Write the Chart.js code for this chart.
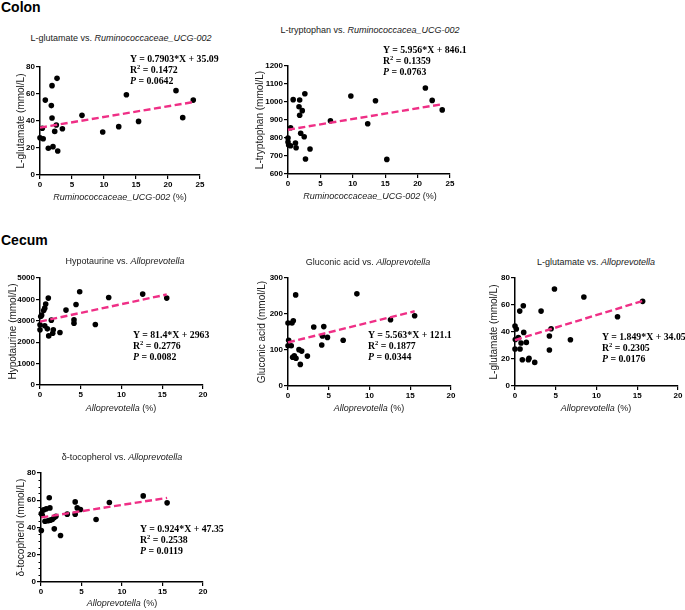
<!DOCTYPE html>
<html><head><meta charset="utf-8">
<script src="https://cdn.jsdelivr.net/npm/chart.js@4.4.1/dist/chart.umd.min.js"></script>
<style>
html,body{margin:0;padding:0;background:#fff;width:685px;height:610px;overflow:hidden;}
#wrap{position:relative;width:685px;height:610px;}
canvas{position:absolute;}
.t{position:absolute;font-family:"Liberation Sans",Arial,sans-serif;color:#1a1a1a;white-space:nowrap;}
.hdr{font-weight:bold;font-size:14px;color:#000;transform:translateY(-50%);}
.ctr{font-size:9px;transform:translate(-50%,-50%);}
.st{position:absolute;font-family:"Liberation Serif","Times New Roman",serif;font-weight:bold;font-size:9.8px;line-height:11px;white-space:nowrap;color:#000;}
.st sup{font-size:6.5px;line-height:0;vertical-align:4px;}
</style></head><body><div id="wrap"></div>
<script>
// ---------- data ----------
const colonRumX1 = [0,0.5,0.36,0.83,1.3,1.88,1.77,1.88,2.03,2.3,2.55,2.66,2.77,3.5,6.56,9.8,12.3,13.5,15.4,21.25,22.3,23.95];
const colonGlutamate = [27.6,26.9,34.6,55.5,19.8,66.2,51.4,42.2,21,32.3,37,71.6,17.8,34.3,44.2,31.9,35.8,59.5,39.7,62.5,42.5,55.5];

const colonRumX2 = [0,0,0.1,0.4,0.4,0.8,1.15,1.25,1.7,1.8,1.8,1.96,2.2,2.5,2.6,2.7,3.4,6.55,9.7,12.3,13.5,15.25,21.2,22.25,23.8];
const colonTryptophan = [800,778,761,757,857,1013,772,746,974,1011,926,826,952,807,1046,683,739,896,1033,879,1007,681,1078,1009,956];

const cecumAlloX_hypo = [0,0,0.09,0.2,0.45,0.58,0.7,0.58,0.9,1.02,1.07,1.39,1.56,1.63,2.45,3.19,4.17,4.17,4.42,4.87,6.79,8.43,12.6,15.55];
const cecumHypotaurine = [2810,2576,3200,3264,3480,3590,3780,2763,2623,4060,2295,3030,2420,2576,2450,3500,3045,2890,3760,4356,2824,4090,4248,4060];

const cecumAlloX_gluc = [0,0,0.08,0.4,0.49,0.57,0.65,0.77,0.94,0.98,1.35,1.51,1.68,2.38,3.16,4.14,4.22,4.39,4.84,6.77,8.45,12.58,15.54];
const cecumGluconic = [175,112,127,112,175,80,181,84,253,77,101,60,97,83,164,114,139,165,135,127,256,184,195];

const cecumAlloX_glu = [0,0,0.04,0.16,0.41,0.58,0.62,0.74,0.9,1.02,1.07,1.39,1.64,1.72,2.42,3.2,4.22,4.22,4.43,4.84,6.8,8.45,12.58,15.66];
const cecumGlutamate = [44.4,27.4,34.5,42.2,35.8,55.5,27.4,31.8,19.5,59.5,39.7,32.3,19.5,20.5,17.5,55.5,37,26.7,42.4,71.8,34.3,65.9,51.3,62.7];

const cecumAlloX_toc = [0.04,0.04,0.16,0.32,0.49,0.65,0.86,1.02,1.1,1.14,1.39,1.64,1.64,1.84,2.41,3.24,4.22,4.22,4.47,4.87,6.8,8.44,12.62,15.57];
const cecumTocopherol = [37.8,50.3,49,52.9,44.6,53.7,44.9,61.8,54.4,45.4,45.9,47.3,39,48.3,34.1,49.8,58.8,49.8,54.4,53.2,45.9,58.4,63.2,58.1];

// regression results (as printed)
const slopes     = ["0.7903","5.956","81.4","5.563","1.849","0.924"];
const intercepts = ["35.09","846.1","2963","121.1","34.05","47.35"];
const rSquared   = ["0.1472","0.1359","0.2776","0.1877","0.2305","0.2538"];
const pValues    = ["0.0642","0.0763","0.0082","0.0344","0.0176","0.0119"];

// axis ranges / ticks
const yMins  = [0,600,0,0,0,0];
const yMaxs  = [80,1200,5000,300,80,80];
const ySteps = [20,100,1000,100,20,20];
const yMinorSteps = [0,0,0,0,0,5];
const xMaxs  = [25,25,20,20,20,20];
const xStep  = 5;

// texts
const titleMetab = ["L-glutamate","L-tryptophan","Hypotaurine","Gluconic acid","L-glutamate","\u03b4-tocopherol"];
const titleTaxa  = ["Ruminococcaceae_UCG-002","Ruminococcacea_UCG-002","Alloprevotella","Alloprevotella","Alloprevotella","Alloprevotella"];
const yTitles    = ["L-glutamate (mmol/L)","L-tryptophan (mmol/L)","Hypotaurine (mmol/L)","Gluconic acid (mmol/L)","L-glutamate (mmol/L)","\u03b4-tocopherol (mmol/L)"];
const xTitleTaxa = ["Ruminococcaceae_UCG-002","Ruminococcaceae_UCG-002","Alloprevotella","Alloprevotella","Alloprevotella","Alloprevotella"];
const sections   = ["Colon","Cecum"];

const seriesX = [colonRumX1,colonRumX2,cecumAlloX_hypo,cecumAlloX_gluc,cecumAlloX_glu,cecumAlloX_toc];
const seriesY = [colonGlutamate,colonTryptophan,cecumHypotaurine,cecumGluconic,cecumGlutamate,cecumTocopherol];

// ---------- layout (pixels) ----------
const AREAS = [ // chart-area left, top, right, bottom
  [40,67,200,175],[288,66,450,174],[40,278,203,385],
  [288,278,451,386],[515,278,678,386],[41,473,203,582]
];
const YT_OFF = [19,28,27,26,21,20];          // y-title centre distance from axis
const TITLE_POS = [[121,38],[370,30],[125,261],[368,262],[596,262],[122,457]];
const XLAB_POS  = [[120,197],[370,196],[121,408],[369,408],[596,408],[122,603]];
const STAT_POS  = [[130,58],[383,49],[133,334],[368,334],[602,336],[140,528]];
const HDR_POS   = [[1,7],[1,240]];

const YW = 38, PT = 10, XH = 22;
const PINK = '#ef2f86';
const SANS = '"Liberation Sans", Arial, sans-serif';
const YT_SIZE = 10;

const wrap = document.getElementById('wrap');
function addText(cls, html, x, y){
  const d = document.createElement('div');
  d.className = cls; d.innerHTML = html;
  d.style.left = x+'px'; d.style.top = y+'px';
  wrap.appendChild(d); return d;
}

const minorTicks = {
  id:'minorTicks',
  afterDraw(chart, args, opts){
    const step = opts.step; if(!step) return;
    const y = chart.scales.y, ctx = chart.ctx, major = opts.major;
    ctx.save(); ctx.strokeStyle = '#000'; ctx.lineWidth = 1;
    for(let v = y.min; v <= y.max + 1e-9; v += step){
      if(Math.abs(v/major - Math.round(v/major)) < 1e-6) continue;
      const p = Math.round(y.getPixelForValue(v)) + 0.5;
      ctx.beginPath(); ctx.moveTo(y.right - 2.5, p); ctx.lineTo(y.right, p); ctx.stroke();
    }
    ctx.restore();
  }
};

sections.forEach((s,i)=>addText('t hdr', s, HDR_POS[i][0], HDR_POS[i][1]));

for(let i=0;i<6;i++){
  const [L,T,R,B] = AREAS[i];
  const PR = Math.min(12, 685 - R);
  const cw = R - L + YW + PR, ch = B - T + PT + XH;
  const cv = document.createElement('canvas');
  cv.width = cw; cv.height = ch;
  cv.style.left = (L - YW)+'px'; cv.style.top = (T - PT)+'px';
  cv.style.width = cw+'px'; cv.style.height = ch+'px';
  wrap.appendChild(cv);

  const xs = seriesX[i], ys = seriesY[i];
  const m = parseFloat(slopes[i]), b = parseFloat(intercepts[i]);
  const x0 = Math.min(...xs), x1 = Math.max(...xs);
  const pts = xs.map((x,k)=>({x, y:ys[k]}));

  const tickFont = {family:SANS, size:8, weight:'bold'};
  const plain = (v)=>String(v);
  new Chart(cv, {
    type:'scatter',
    data:{datasets:[
      {data:pts, backgroundColor:'#000', borderColor:'#000', pointRadius:2.8, pointHoverRadius:2.8, borderWidth:0, clip:false, order:1},
      {type:'line', data:[{x:x0,y:m*x0+b},{x:x1,y:m*x1+b}], borderColor:PINK, borderWidth:2.4, borderDash:[7,3.5], pointRadius:0, fill:false, clip:false, order:0}
    ]},
    options:{
      responsive:false, animation:false, devicePixelRatio:1,
      layout:{padding:{left:0, top:PT, right:PR, bottom:0}},
      plugins:{legend:{display:false}, tooltip:{enabled:false}, title:{display:false},
        minorTicks:{step:yMinorSteps[i], major:ySteps[i]}},
      scales:{
        x:{type:'linear', min:0, max:xMaxs[i],
          ticks:{stepSize:xStep, autoSkip:false, maxRotation:0, font:tickFont, color:'#000', padding:1, callback:plain},
          grid:{drawOnChartArea:false, drawTicks:true, tickLength:4, color:'#000', lineWidth:1.2},
          border:{color:'#000', width:1.5},
          afterFit:(s)=>{ s.height = XH; }},
        y:{type:'linear', min:yMins[i], max:yMaxs[i],
          ticks:{stepSize:ySteps[i], autoSkip:false, font:tickFont, color:'#000', padding:1, callback:plain},
          grid:{drawOnChartArea:false, drawTicks:true, tickLength:4, color:'#000', lineWidth:1.2},
          border:{color:'#000', width:1.5},
          title:{display:true, text:yTitles[i], color:'#1a1a1a', font:{family:SANS, size:YT_SIZE},
                 padding:{top: YW - YT_OFF[i] - YT_SIZE*0.6, bottom:0}},
          afterFit:(s)=>{ s.width = YW; }}
      }
    },
    plugins:[minorTicks]
  });

  addText('t ctr', titleMetab[i]+' vs. <i>'+titleTaxa[i]+'</i>', TITLE_POS[i][0], TITLE_POS[i][1]);
  addText('t ctr', '<i>'+xTitleTaxa[i]+'</i> (%)', XLAB_POS[i][0], XLAB_POS[i][1]);
  addText('st', 'Y = '+slopes[i]+'*X + '+intercepts[i]+'<br>R<sup>2</sup> = '+rSquared[i]+'<br><i>P</i> = '+pValues[i], STAT_POS[i][0], STAT_POS[i][1]-5.5);
}
</script>
</body></html>
